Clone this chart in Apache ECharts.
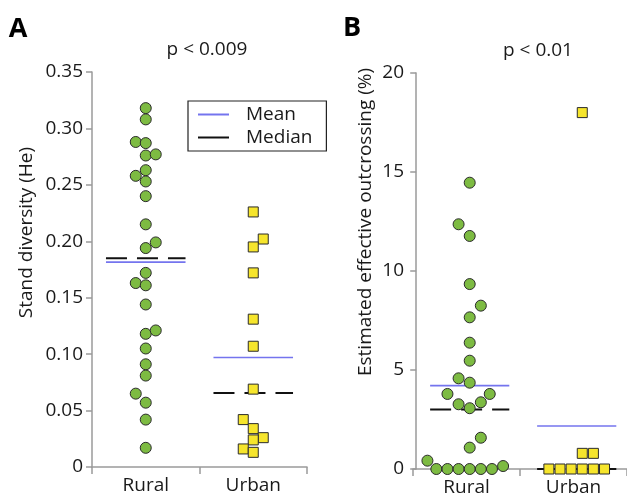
<!DOCTYPE html>
<html>
<head>
<meta charset="utf-8">
<script src="https://cdn.jsdelivr.net/npm/echarts@6/dist/echarts.min.js"></script>
<style>
html,body{margin:0;padding:0;background:#fff;}
#chart{width:627px;height:503px;}
</style>
</head>
<body>
<div id="chart"></div>
<script>
// ---- Data ----
const categories = ['Rural', 'Urban'];

// Panel A: stand diversity (He)
const ruralA = [0.318,0.308,0.288,0.287,0.276,0.277,0.263,0.258,0.253,0.240,0.215,0.199,0.194,0.172,0.163,0.161,0.144,0.118,0.121,0.105,0.091,0.081,0.065,0.057,0.042,0.017];
const ruralAColumn = [0,0,-1,0,0,1,0,-1,0,0,0,1,0,0,-1,0,0,0,1,0,0,0,-1,0,0,0];
const urbanA = [0.226,0.202,0.195,0.172,0.131,0.107,0.069,0.042,0.034,0.026,0.024,0.016,0.013];
const urbanAColumn = [0,1,0,0,0,0,0,-1,0,1,0,-1,0];
const meanA = [0.1815, 0.097];
const medianA = [0.185, 0.0655];

// Panel B: estimated effective outcrossing (%)
const ruralB = [14.46,12.36,11.77,9.34,8.25,7.66,6.38,5.47,4.58,4.36,3.79,3.79,3.27,3.37,3.07,1.58,1.08,0.42,0,0,0,0,0,0,0.15];
const ruralBColumn = [0,-1,0,0,1,0,0,0,-1,0,-2,1.8,-1,1,0,1,0,-3.8,-3,-2,-1,0,1,2,3];
const urbanB = [18,0.79,0.79,0,0,0,0,0,0];
const urbanBColumn = [0.5,0.5,1.5,-2.5,-1.5,-0.5,0.5,1.5,2.5];
const meanB = [4.21, 2.17];
const medianB = [3.0, 0];

const ticksA = {min: 0, max: 0.35, interval: 0.05};
const ticksB = {min: 0, max: 20, interval: 5};

// ---- Styles ----
const FONT = "'Open Sans', 'Noto Sans', sans-serif";
const FS = 19;
const TXT = '#1a1a1a';
const AXIS = '#9a9a9a';
const GREEN = '#7dbb42';
const YELLOW = '#f6e52c';
const BLUE = '#7474ee';
const HALF = 0.37;

function pts(vals, cols, cat, step) {
  return vals.map((v, i) => [cat + 0.5 + cols[i] * step, v]);
}
function hline(cat, v) {
  return [[cat + 0.5 - HALF, v], [cat + 0.5 + HALF, v]];
}

function catAxis(grid) {
  return {
    type: 'category', gridIndex: grid, data: categories, boundaryGap: true,
    axisLine: {lineStyle: {color: AXIS, width: 1.5}},
    axisTick: {show: true, length: 7, lineStyle: {color: AXIS, width: 1.5}},
    axisLabel: {color: TXT, fontSize: FS, fontFamily: FONT, margin: 9},
    splitLine: {show: false}
  };
}
function valXAxis(grid, shift) {
  return {type: 'value', gridIndex: grid, min: 0 + shift, max: 2 + shift, show: false};
}
function yAx(grid, t, name, gap, shiftPad, fmt) {
  return {
    type: 'value', gridIndex: grid, min: t.min, max: t.max, interval: t.interval,
    name: name, nameLocation: 'middle', nameGap: gap,
    nameTextStyle: {color: TXT, fontSize: FS, fontFamily: FONT, padding: [0, 0, 0, shiftPad]},
    axisLine: {show: true, lineStyle: {color: AXIS, width: 1.5}},
    axisTick: {show: true, length: 6, lineStyle: {color: AXIS, width: 1.5}},
    axisLabel: {color: TXT, fontSize: FS, fontFamily: FONT, margin: 9, formatter: fmt},
    splitLine: {show: false}
  };
}

function meanMedianSeries(xi, yi, means, medians) {
  const out = [];
  means.forEach((m, c) => out.push({
    name: 'Mean', type: 'line', xAxisIndex: xi, yAxisIndex: yi, data: hline(c, m),
    symbol: 'none', z: 3, itemStyle: {color: BLUE}, lineStyle: {color: BLUE, width: 1.6}
  }));
  medians.forEach((m, c) => out.push({
    name: 'Median', type: 'line', xAxisIndex: xi, yAxisIndex: yi, data: hline(c, m),
    symbol: 'none', z: 3, itemStyle: {color: '#111'}, lineStyle: {color: '#111', width: 2, type: [21, 10]}
  }));
  return out;
}
function scatter(xi, yi, data, shape, color, size) {
  return {
    type: 'scatter', xAxisIndex: xi, yAxisIndex: yi, data: data, symbol: shape, symbolSize: size,
    z: 4, itemStyle: {color: color, borderColor: '#2b2b2b', borderWidth: 1, opacity: 1}
  };
}

const stepA = 0.093, stepB = 0.104;

const option = {
  animation: false,
  backgroundColor: '#fff',
  textStyle: {fontFamily: FONT},
  grid: [
    {left: 92, right: 320, top: 72, bottom: 36},
    {left: 413, right: -4, top: 73, bottom: 34}
  ],
  xAxis: [catAxis(0), valXAxis(0, 0), catAxis(1), valXAxis(1, -0.03)],
  yAxis: [
    yAx(0, ticksA, 'Stand diversity (He)', 56, 74, v => v === 0 ? '0' : v.toFixed(2)),
    yAx(1, ticksB, 'Estimated effective outcrossing (%)', 38, 98, v => String(v))
  ],
  legend: {
    orient: 'vertical', left: 188, top: 101,
    data: [{name: 'Mean', icon: 'rect'}, {name: 'Median', icon: 'rect'}],
    itemWidth: 31, itemHeight: 2, itemGap: 4,
    padding: [4, 14, 4, 10],
    borderColor: '#222', borderWidth: 1.2,
    textStyle: {color: TXT, fontSize: FS, fontFamily: FONT, padding: [0, 0, 0, 12]}
  },
  graphic: [
    {type: 'text', x: 18, y: 29, style: {text: 'A', fill: '#000', font: "bold 27px " + FONT, align: 'center', verticalAlign: 'middle'}},
    {type: 'text', x: 352, y: 28, style: {text: 'B', fill: '#000', font: "bold 27px " + FONT, align: 'center', verticalAlign: 'middle'}},
    {type: 'text', x: 207, y: 50, style: {text: 'p < 0.009', fill: TXT, font: FS + "px " + FONT, align: 'center', verticalAlign: 'middle'}},
    {type: 'text', x: 538, y: 51, style: {text: 'p < 0.01', fill: TXT, font: FS + "px " + FONT, align: 'center', verticalAlign: 'middle'}}
  ],
  series: [
    ...meanMedianSeries(1, 0, meanA, medianA),
    scatter(1, 0, pts(ruralA, ruralAColumn, 0, stepA), 'circle', GREEN, 11),
    scatter(1, 0, pts(urbanA, urbanAColumn, 1, stepA), 'rect', YELLOW, 10),
    ...meanMedianSeries(3, 1, meanB, medianB),
    scatter(3, 1, pts(ruralB, ruralBColumn, 0, stepB), 'circle', GREEN, 11),
    scatter(3, 1, pts(urbanB, urbanBColumn, 1, stepB), 'rect', YELLOW, 10)
  ]
};

const chart = echarts.init(document.getElementById('chart'), null, {renderer: 'canvas'});
chart.setOption(option);
</script>
</body>
</html>
